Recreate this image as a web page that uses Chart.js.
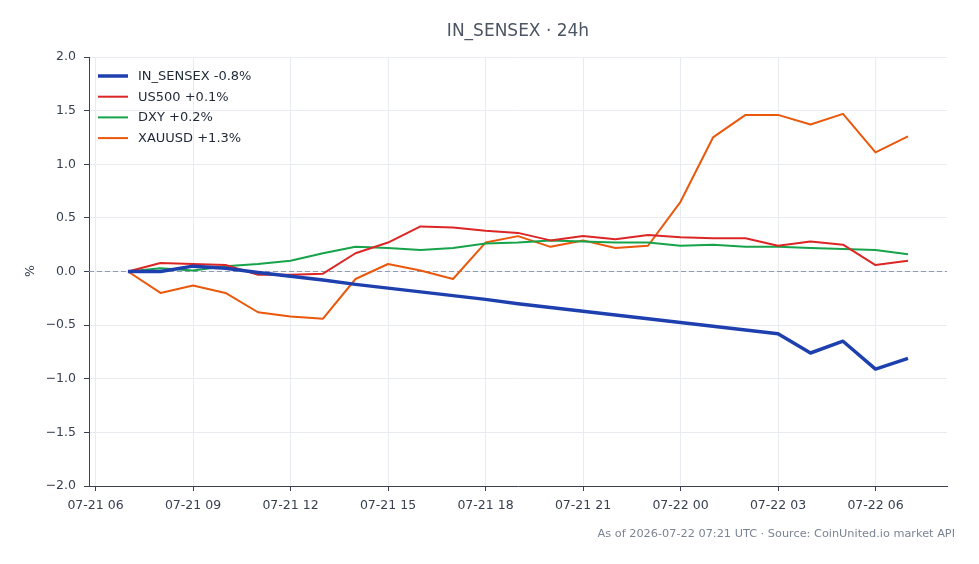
<!DOCTYPE html>
<html><head><meta charset="utf-8">
<script src="https://cdn.jsdelivr.net/npm/chart.js@4/dist/chart.umd.min.js"></script>
<style>html,body{margin:0;padding:0;background:#fff;} canvas{display:block;}</style>
</head><body>
<canvas id="c" width="979" height="564"></canvas>
<script>
// hours since 2026-07-21 00:00 UTC
const hours = [7,8,9,10,11,12,13,14,15,16,17,18,19,20,21,22,23,24,25,26,27,28,29,30,31];
const inSensex = [0.00,0.00,0.05,0.03,-0.01,-0.045,-0.08,-0.12,-0.155,-0.19,-0.225,-0.26,-0.30,-0.335,-0.37,-0.405,-0.44,-0.475,-0.51,-0.545,-0.58,-0.76,-0.65,-0.91,-0.81];
const us500 = [0.00,0.08,0.07,0.06,-0.03,-0.03,-0.02,0.17,0.27,0.42,0.41,0.38,0.36,0.29,0.33,0.30,0.34,0.32,0.31,0.31,0.24,0.28,0.25,0.06,0.10];
const dxy = [0.00,0.03,0.01,0.05,0.07,0.10,0.17,0.23,0.22,0.20,0.22,0.26,0.27,0.29,0.28,0.27,0.27,0.24,0.25,0.23,0.23,0.22,0.21,0.20,0.16];
const xauusd = [0.00,-0.20,-0.13,-0.20,-0.38,-0.42,-0.44,-0.07,0.07,0.01,-0.07,0.27,0.33,0.23,0.29,0.22,0.24,0.65,1.25,1.46,1.46,1.37,1.47,1.11,1.26];
const seriesNames = ['IN_SENSEX -0.8%','US500 +0.1%','DXY +0.2%','XAUUSD +1.3%'];
const seriesColors = ['#1e40af','#dc2626','#16a34a','#ea580c'];
const seriesWidths = [3.5,2,2,2];
const xTickHours = [6,9,12,15,18,21,24,27,30];
const xTickLabels = ['07-21 06','07-21 09','07-21 12','07-21 15','07-21 18','07-21 21','07-22 00','07-22 03','07-22 06'];
const yTicks = [-2,-1.5,-1,-0.5,0,0.5,1,1.5,2];
const yTickLabels = ['\u22122.0','\u22121.5','\u22121.0','\u22120.5','0.0','0.5','1.0','1.5','2.0'];
const titleText = 'IN_SENSEX \u00b7 24h';
const footerText = 'As of 2026-07-22 07:21 UTC \u00b7 Source: CoinUnited.io market API';

const FONT = "'DejaVu Sans', sans-serif";
const seriesData = [inSensex, us500, dxy, xauusd];
const datasets = seriesData.map((arr, i) => ({
  label: seriesNames[i],
  data: hours.map((h, j) => ({x: h, y: arr[j]})),
  borderColor: seriesColors[i],
  backgroundColor: seriesColors[i],
  borderWidth: seriesWidths[i],
  pointRadius: 0,
  tension: 0,
  fill: false,
  borderJoinStyle: 'round',
  borderCapStyle: 'butt'
}));

const decor = {
  id: 'decor',
  beforeDatasetsDraw(chart) {
    const {ctx, chartArea, scales} = chart;
    const y0 = scales.y.getPixelForValue(0);
    ctx.save();
    ctx.strokeStyle = '#8d9bb5';
    ctx.lineWidth = 1.1;
    ctx.setLineDash([5, 3]);
    ctx.beginPath();
    ctx.moveTo(chartArea.left, y0);
    ctx.lineTo(chartArea.right, y0);
    ctx.stroke();
    ctx.restore();
  },
  afterDraw(chart) {
    const {ctx, chartArea} = chart;
    ctx.save();
    // title
    ctx.fillStyle = '#4b5563';
    ctx.font = '17px ' + FONT;
    ctx.textAlign = 'center';
    ctx.textBaseline = 'middle';
    ctx.fillText(titleText, (chartArea.left + chartArea.right) / 2, 32);
    // footer
    ctx.fillStyle = '#7b8494';
    ctx.font = '11.3px ' + FONT;
    ctx.textAlign = 'right';
    ctx.fillText(footerText, 955, 534);
    // y label
    ctx.save();
    ctx.translate(31, 271);
    ctx.rotate(-Math.PI / 2);
    ctx.fillStyle = '#374151';
    ctx.font = '12.5px ' + FONT;
    ctx.textAlign = 'center';
    ctx.fillText('%', 0, 0);
    ctx.restore();
    // legend
    ctx.font = '13px ' + FONT;
    ctx.textAlign = 'left';
    chart.data.datasets.forEach((ds, i) => {
      const y = 76 + i * 20.7;
      ctx.strokeStyle = ds.borderColor;
      ctx.lineWidth = ds.borderWidth;
      ctx.beginPath();
      ctx.moveTo(98, y);
      ctx.lineTo(128, y);
      ctx.stroke();
      ctx.fillStyle = '#1f2937';
      ctx.fillText(ds.label, 138, y + 0.5);
    });
    ctx.restore();
  }
};

new Chart(document.getElementById('c'), {
  type: 'line',
  data: {datasets},
  options: {
    responsive: false,
    devicePixelRatio: 1,
    animation: false,
    layout: {padding: {left: 0, right: 32, top: 57, bottom: 48}},
    plugins: {legend: {display: false}, title: {display: false}, tooltip: {enabled: false}},
    scales: {
      x: {
        type: 'linear', min: 5.8, max: 32.2,
        afterBuildTicks: (s) => { s.ticks = xTickHours.map(v => ({value: v})); },
        afterFit: (s) => { s.height = 30; },
        ticks: {
          autoSkip: false, maxRotation: 0, minRotation: 0, padding: 7,
          color: '#374151', font: {family: FONT, size: 12.5},
          callback: (v) => xTickLabels[xTickHours.indexOf(v)]
        },
        grid: {color: '#e8ebf0', tickColor: '#374151', tickLength: 5, lineWidth: 1},
        border: {display: true, color: '#374151', width: 1}
      },
      y: {
        min: -2, max: 2,
        afterBuildTicks: (s) => { s.ticks = yTicks.map(v => ({value: v})); },
        afterFit: (s) => { s.width = 89; },
        ticks: {
          padding: 8, color: '#374151', font: {family: FONT, size: 12.5},
          callback: (v) => yTickLabels[yTicks.indexOf(v)]
        },
        grid: {color: '#e8ebf0', tickColor: '#374151', tickLength: 5, lineWidth: 1},
        border: {display: true, color: '#374151', width: 1}
      }
    }
  },
  plugins: [decor]
});
</script>
</body></html>
